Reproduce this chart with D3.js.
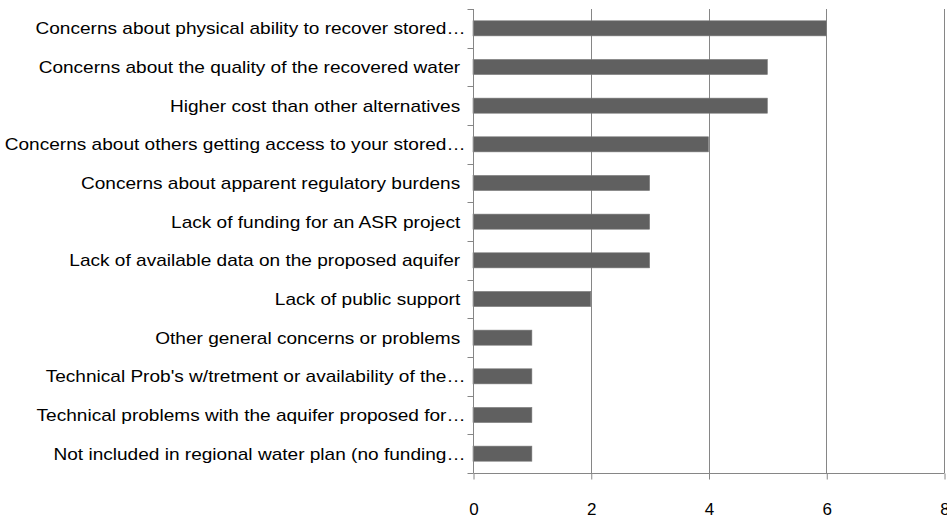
<!DOCTYPE html>
<html><head><meta charset="utf-8">
<script src="https://cdn.jsdelivr.net/npm/d3@7"></script>
<style>body{margin:0;background:#fff}svg text{font-family:"Liberation Sans",Arial,sans-serif;fill:#000}</style>
</head><body>
<svg id="c" width="947" height="518"></svg>
<script>
const categories = [
  "Concerns about physical ability to recover stored\u2026",
  "Concerns about the quality of the recovered water ",
  "Higher cost than other alternatives ",
  "Concerns about others getting access to your stored\u2026",
  "Concerns about apparent regulatory burdens ",
  "Lack of funding for an ASR project ",
  "Lack of available data on the proposed aquifer ",
  "Lack of public support ",
  "Other general concerns or problems ",
  "Technical Prob's w/tretment or availability of the\u2026",
  "Technical problems with the aquifer proposed for\u2026",
  "Not included in regional water plan (no funding\u2026"
];
const values = [6, 5, 5, 4, 3, 3, 3, 2, 1, 1, 1, 1];
const xTicks = [0, 2, 4, 6, 8];

const svg = d3.select("#c");
const pL = 473, pR = 944, pT = 9, pB = 473;
const x = d3.scaleLinear().domain([0, 8]).range([pL, pR]);
const y = d3.scaleBand().domain(categories).range([pT, pB]).paddingInner(0.61).paddingOuter(0.305);

// gridlines
svg.append("g").selectAll("line").data(xTicks.slice(1)).join("line")
  .attr("x1", d => Math.round(x(d)) + 0.5).attr("x2", d => Math.round(x(d)) + 0.5)
  .attr("y1", pT).attr("y2", pB)
  .attr("stroke", "#868686").attr("stroke-width", 1);

// bars
svg.append("g").selectAll("rect").data(values).join("rect")
  .attr("x", x(0)).attr("y", (d, i) => y(categories[i]))
  .attr("width", d => x(d) - x(0)).attr("height", y.bandwidth())
  .attr("fill", "#606060").attr("stroke", "#7a7a7a").attr("stroke-width", 0.6);

// x axis
const xa = svg.append("g").attr("transform", `translate(0.5,${pB + 0.5})`)
  .call(d3.axisBottom(x).tickValues(xTicks).tickSize(6).tickPadding(23).tickFormat(d3.format("d")));
xa.select(".domain").attr("stroke", "#868686").attr("d", `M${pL},0H${pR}`);
xa.selectAll(".tick line").attr("stroke", "#868686");
xa.selectAll(".tick text").style("font-size", "17px").attr("fill", "#000");

// y axis (category boundary ticks)
const ya = svg.append("g").attr("transform", `translate(${pL + 0.5},0)`);
ya.append("line").attr("x1", 0).attr("x2", 0).attr("y1", pT).attr("y2", pB).attr("stroke", "#868686");
const step = (pB - pT) / categories.length;
ya.selectAll("line.t").data(d3.range(categories.length + 1)).join("line").attr("class", "t")
  .attr("x1", -6).attr("x2", 0)
  .attr("y1", i => Math.round(pT + i * step) + 0.5).attr("y2", i => Math.round(pT + i * step) + 0.5)
  .attr("stroke", "#868686");
const labels = ya.selectAll("text").data(categories).join("text")
  .attr("x", -8).attr("y", d => y(d) + y.bandwidth() / 2)
  .attr("dy", "0.36em").attr("text-anchor", "end")
  .style("font-size", "17px").style("white-space", "pre")
  .text(d => d);
// condense horizontally to match narrow reference face (first label spans ~430px)
const k = 430 / labels.node().getComputedTextLength();
labels.each(function () {
  const w = this.getComputedTextLength();
  d3.select(this).attr("textLength", w * k).attr("lengthAdjust", "spacingAndGlyphs");
});
</script>
</body></html>
